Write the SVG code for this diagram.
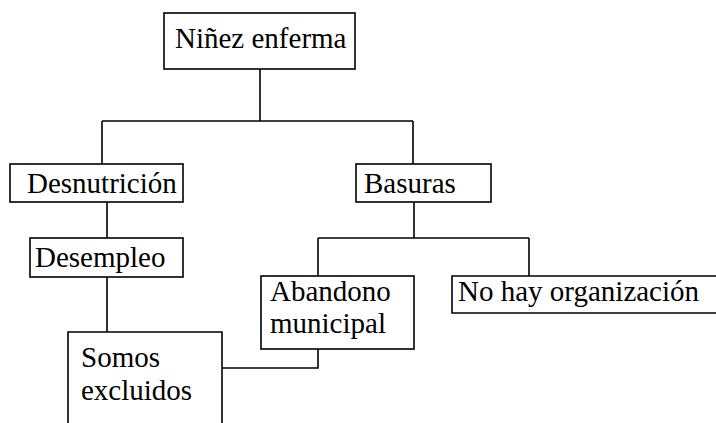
<svg xmlns="http://www.w3.org/2000/svg" width="716" height="423" viewBox="0 0 716 423">
<style>
.b{fill:#fff;stroke:#000;stroke-width:1.6}
.t{font-family:"Liberation Serif","DejaVu Serif","Noto Serif",Tinos,"Times New Roman",serif;font-size:29px;fill:#000}
.c{fill:none;stroke:#000;stroke-width:1.6}
</style>
<rect width="716" height="423" fill="#fff"/>
<g id="connectors">
<path class="c" d="M260 69V121M102 121H413M102 121V164M413 121V164"/>
<path class="c" d="M107 202V238M107 277V332"/>
<path class="c" d="M414 202V238M318 238H529M318 238V276M529 238V276"/>
<path class="c" d="M222 368H318V349"/>
</g>
<g id="n1"><rect class="b" x="164" y="13" width="191" height="56"/><text class="t" x="175" y="48">Niñez enferma</text></g>
<g id="n2"><rect class="b" x="10" y="164" width="173" height="38"/><text class="t" x="27" y="193">Desnutrición</text></g>
<g id="n3"><rect class="b" x="30" y="238" width="153" height="39"/><text class="t" x="35" y="267">Desempleo</text></g>
<g id="n4"><path class="b" d="M68 425V332H222V425"/><text class="t" x="81" y="367">Somos</text><text class="t" x="81" y="400">excluidos</text></g>
<g id="n5"><rect class="b" x="356" y="164" width="135" height="38"/><text class="t" x="364" y="193">Basuras</text></g>
<g id="n6"><rect class="b" x="261" y="276" width="153" height="73"/><text class="t" x="270" y="301">Abandono</text><text class="t" x="270" y="333">municipal</text></g>
<g id="n7"><path class="b" d="M718 276H452V313H718"/><text class="t" x="458" y="301">No hay organización</text></g>
</svg>
